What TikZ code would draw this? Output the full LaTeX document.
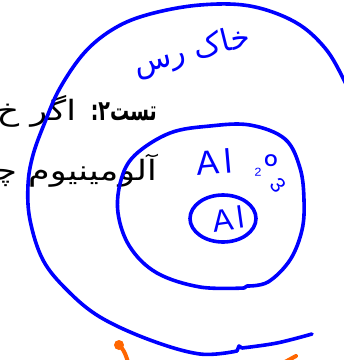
\documentclass[tikz,border=0pt]{standalone}
\usepackage{fontspec}
\setmainfont{Liberation Sans}
\newfontfamily\arabicfont[Script=Arabic]{DejaVu Sans}
\newfontfamily\arabicwide[Script=Arabic, FakeStretch=1.25]{DejaVu Sans}
\newfontfamily\arabicbold[Script=Arabic, FakeStretch=0.68]{DejaVu Sans Bold}
\TeXXeTstate=1
\definecolor{penblue}{RGB}{0,0,255}
\definecolor{penorange}{RGB}{255,102,0}
\begin{document}
\begin{tikzpicture}[x=1pt,y=-1pt,
  pen/.style={draw=penblue, line width=3.6pt, line cap=round, line join=round},
  orangepen/.style={draw=penorange, line width=4pt, line cap=round, line join=round},
  hand/.style={text=penblue, inner sep=0pt},
  printed/.style={text=black, inner sep=0pt, font=\arabicwide\fontsize{28}{30}\selectfont}]
\useasboundingbox (0,0) rectangle (344,360);
\clip (0,0) rectangle (344,360);
% printed text
\node[printed, anchor=base east] (line1) at (157,120) {\beginR{\arabicbold تست۲:} اگر خ\endR};
\node[printed, anchor=base east] (line2) at (157,180) {\beginR آلومینیوم چند\endR};
% outer curve
\draw[pen] plot[smooth, tension=0.6] coordinates {(312,334) (277,343) (242,348)};
\draw[pen] (242,348) -- (239,346) -- (237,351);
\draw[pen] plot[smooth, tension=0.6] coordinates {(237,351) (200,354) (150,340) (100,317) (67,290) (43,260) (30,220) (28,185) (33,155) (45,122) (60,88) (85,52) (115,28) (150,14) (200,5) (250,6) (295,22) (325,48) (344,80) (352,100)};
% inner curve
\draw[pen] plot[smooth, tension=0.6] coordinates {(244,288) (200,287) (157,273) (130,247) (118,213) (121,180) (135,155) (170,133) (210,126) (250,125) (285,139) (300,168) (304,200) (302,230) (290,260) (268,282) (247,286)};
\draw[pen] (247,286) -- (244,288);
% small ellipse
\draw[pen] (223,218.5) ellipse [x radius=33pt, y radius=23.5pt];
% handwritten labels
\node[hand, font=\fontsize{31}{31}\selectfont, rotate=8] (al) at (228,219) {A\kern4pt l};
\node[hand, font=\fontsize{34}{34}\selectfont, rotate=5] (al2) at (214,162) {A\kern5pt l};
\node[hand, font=\fontsize{20}{20}\selectfont] (sub2) at (258,172) {₂};
\node[hand, font=\fontsize{17}{17}\selectfont\bfseries] (ox) at (271,161) {O};
\node[hand, font=\fontsize{21}{21}\selectfont, rotate=-50] (sub3) at (278,185) {3};
\node[hand, font=\arabicfont\fontsize{31}{31}\selectfont, rotate=14] (clay) at (192,52) {\beginR خاک رس\endR};
% orange marks
\fill[penorange] (119,345) circle (5pt);
\draw[orangepen] (121,347) .. controls (125,352) and (126,356) .. (128,362);
\draw[orangepen] (285,362) -- (296,356);
\end{tikzpicture}
\end{document}
